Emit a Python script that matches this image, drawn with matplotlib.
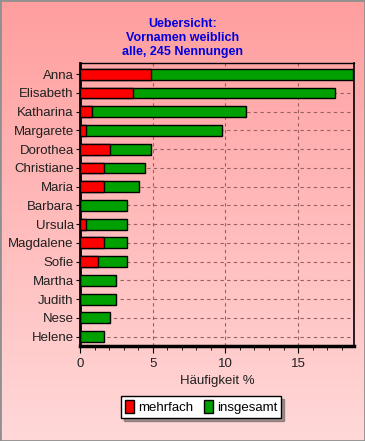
import numpy as np
import matplotlib
matplotlib.use("Agg")
import matplotlib.pyplot as plt
from matplotlib.patches import Patch, Rectangle
from matplotlib.ticker import MultipleLocator

# Nennungen von 245 insgesamt
namen = ["Anna", "Elisabeth", "Katharina", "Margarete", "Dorothea", "Christiane",
         "Maria", "Barbara", "Ursula", "Magdalene", "Sofie", "Martha", "Judith",
         "Nese", "Helene"]
insgesamt_n = [46, 43, 28, 24, 12, 11, 10, 8, 8, 8, 8, 6, 6, 5, 4]
mehrfach_n = [12, 9, 2, 1, 5, 4, 4, 0, 1, 4, 3, 0, 0, 0, 0]
gesamt = 245

insgesamt = np.array(insgesamt_n) / gesamt * 100
mehrfach = np.array(mehrfach_n) / gesamt * 100

plt.rcParams['font.family'] = ['Liberation Sans', 'DejaVu Sans']

W, H = 365, 441
fig = plt.figure(figsize=(W / 100, H / 100), dpi=100)

# pink gradient background
bg = fig.add_axes([0, 0, 1, 1], zorder=-10)
grad = np.linspace(0, 1, 256).reshape(-1, 1)
top = np.array([255, 158, 158]) / 255
bot = np.array([255, 216, 216]) / 255
img = top + (bot - top) * grad[:, :, None]
bg.imshow(img, aspect='auto', extent=[0, 1, 0, 1])
bg.set_axis_off()
fig.patches.append(Rectangle((0, 0), 1, 1, transform=fig.transFigure, fill=False,
                             edgecolor='#909090', linewidth=2))

ax = fig.add_axes([80 / W, 1 - 346 / H, (354 - 80) / W, (346 - 63) / H])
ax.set_facecolor('none')

y = np.arange(len(namen))
ax.barh(y, insgesamt, height=0.58, color='#00a000', edgecolor='black', linewidth=1, zorder=3)
ax.barh(y, mehrfach, height=0.58, color='#ff0000', edgecolor='black', linewidth=1, zorder=4)

ax.set_yticks(y)
ax.set_yticklabels(namen, fontsize=9.5, color='#202020')
ax.set_ylim(14.5, -0.6)
ax.set_xlim(0, 18.85)
ax.xaxis.set_major_locator(MultipleLocator(5))
ax.xaxis.set_minor_locator(MultipleLocator(1))
ax.tick_params(axis='x', which='major', length=5, labelsize=9.5, labelcolor='#202020')
ax.tick_params(axis='x', which='minor', length=3)
ax.tick_params(axis='y', length=3, pad=1.5)

ax.grid(True, axis='both', which='major', linestyle=(0, (3, 3)), color='#9a6060',
        linewidth=0.8, zorder=1)
ax.set_axisbelow(True)

ax.spines['left'].set_linewidth(2)
ax.spines['bottom'].set_linewidth(2.5)
ax.spines['top'].set_linewidth(1)
ax.spines['right'].set_linewidth(1.2)

ax.set_xlabel("Häufigkeit %", fontsize=9.5, color='#202020', labelpad=4)

fig.text(0.5, 1 - 38 / H, "Uebersicht:\nVornamen weiblich\nalle, 245 Nennungen",
         ha='center', va='center', color='#0000e0', fontsize=9, fontweight='bold',
         linespacing=1.2)

handles = [Patch(facecolor='#ff0000', edgecolor='black', label='mehrfach'),
           Patch(facecolor='#00a000', edgecolor='black', label='insgesamt')]
leg = fig.legend(handles=handles, loc='center', bbox_to_anchor=(201 / W, 1 - 407 / H),
                 ncol=2, fontsize=9.5, frameon=True, fancybox=False, shadow=True,
                 handlelength=0.7, handleheight=1.1, handletextpad=0.3,
                 columnspacing=0.8, borderpad=0.3, borderaxespad=0)
leg.get_frame().set_edgecolor('black')
leg.get_frame().set_linewidth(1)
leg.get_frame().set_facecolor('white')
leg.get_frame().set_alpha(1)

fig.savefig("out.png", dpi=100)
